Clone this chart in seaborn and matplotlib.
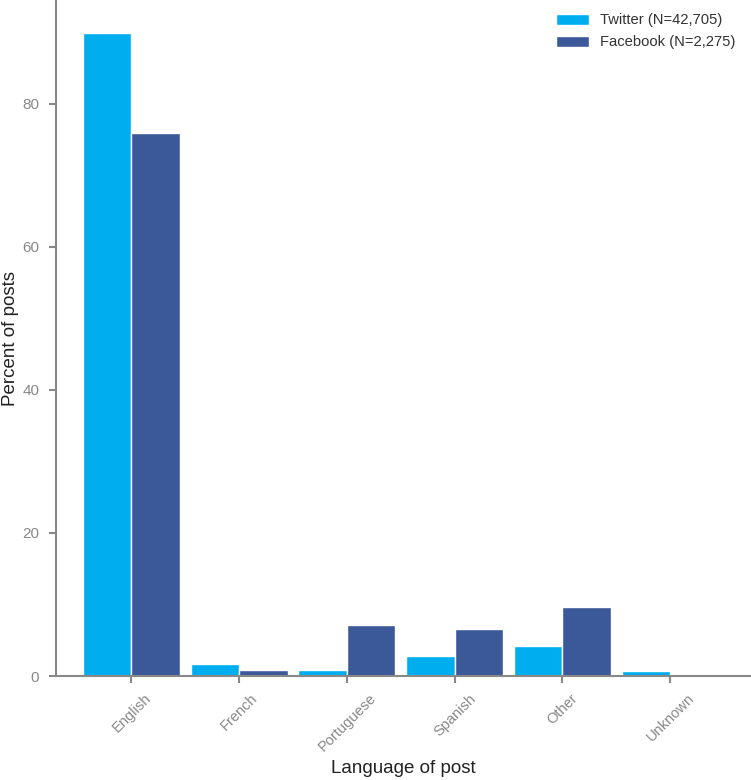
import pandas as pd
import matplotlib
matplotlib.use("Agg")
import matplotlib.pyplot as plt
import seaborn as sns

# 데이터
languages = ['English', 'French', 'Portuguese', 'Spanish', 'Other', 'Unknown']
twitter = [89.9, 1.7, 0.9, 2.75, 4.2, 0.65]
facebook = [75.9, 0.8, 7.1, 6.6, 9.65, 0.0]
series_names = ['Twitter (N=42,705)', 'Facebook (N=2,275)']
colors = ['#00AEEF', '#3B5998']

df = pd.DataFrame({
    'language': languages * 2,
    'percent': twitter + facebook,
    'platform': [series_names[0]] * len(languages) + [series_names[1]] * len(languages),
})

sns.set_style('white')
plt.rcParams['font.family'] = ['Liberation Sans', 'DejaVu Sans']

fig = plt.figure(figsize=(7.51, 7.80), dpi=100)
ax = fig.add_axes([0.0746, 0.1333, 0.9254, 0.8667])

sns.barplot(data=df, x='language', y='percent', hue='platform',
            palette=colors, width=0.9, gap=0, saturation=1,
            ax=ax)

ax.set_xlim(-0.7, 5.75)
ax.set_ylim(0, 94.5)
ax.set_yticks([0, 20, 40, 60, 80])

ax.set_xlabel('Language of post', fontsize=13.5, color='#222222', va='center')
ax.set_ylabel('Percent of posts', fontsize=13.5, color='#222222', va='center')
ax.xaxis.set_label_coords(0.5, -0.137)
ax.yaxis.set_label_coords(-0.066, 0.5)

for s in ['top', 'right']:
    ax.spines[s].set_visible(False)
for s in ['left', 'bottom']:
    ax.spines[s].set_color('#888888')
    ax.spines[s].set_linewidth(1.5)

ax.tick_params(axis='both', colors='#888888', labelcolor='#888888',
               direction='out', length=5, width=1.5,
               bottom=True, left=True)
ax.tick_params(axis='y', labelsize=11, pad=7)
ax.tick_params(axis='x', labelsize=10.5, pad=6)
plt.setp(ax.get_xticklabels(), rotation=45, ha='center')

leg = ax.legend(loc='upper right', frameon=False, fontsize=10.6,
                handlelength=2.2, handleheight=0.8, labelspacing=0.55,
                bbox_to_anchor=(0.997, 1.0))
for t in leg.get_texts():
    t.set_color('#333333')

fig.savefig('out.png', dpi=100)
